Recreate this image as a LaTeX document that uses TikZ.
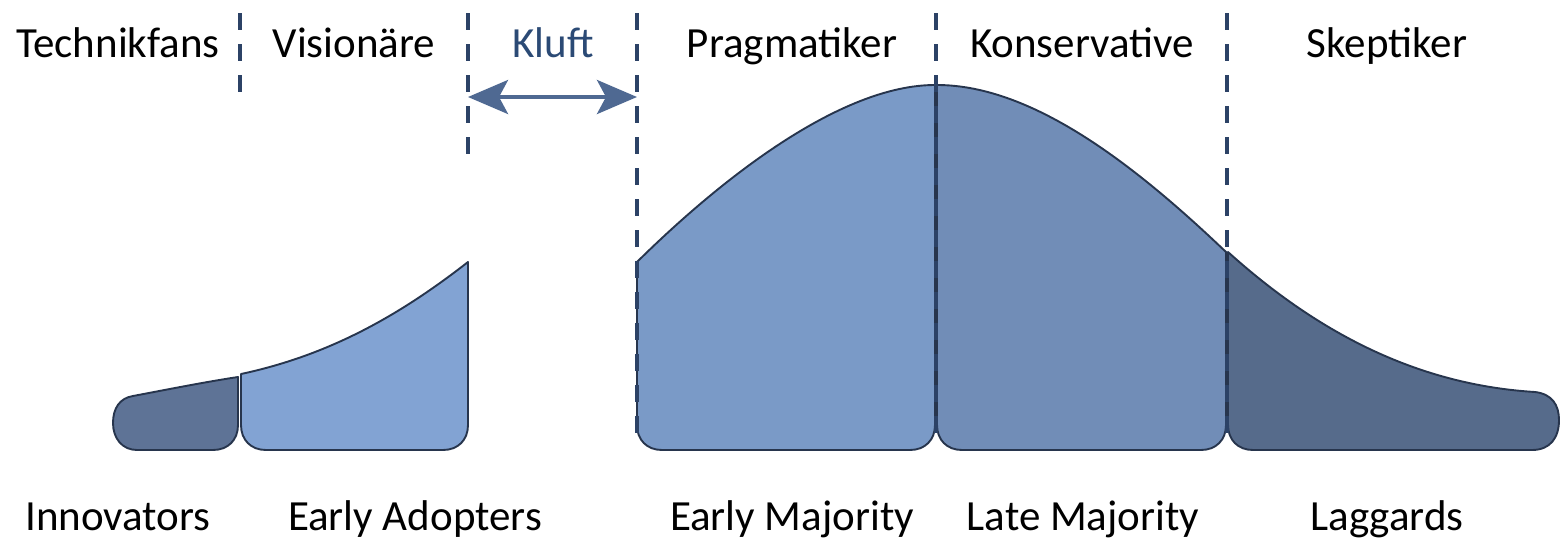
\documentclass[tikz,border=0pt]{standalone}
\usepackage{fontspec}
\setmainfont{Carlito}
\usetikzlibrary{arrows.meta}
\definecolor{innovfill}{HTML}{5E7396}
\definecolor{adoptfill}{HTML}{82A3D3}
\definecolor{earlyfill}{HTML}{7A9AC7}
\definecolor{latefill}{HTML}{718DB7}
\definecolor{lagfill}{HTML}{566B8B}
\definecolor{edge}{HTML}{27354D}
\definecolor{divider}{HTML}{2C4266}
\definecolor{gaparrow}{HTML}{4F6992}
\definecolor{gaptext}{HTML}{2B4A75}
\begin{document}
\begin{tikzpicture}[x=1pt,y=-1pt,
  segment/.style={draw=edge,line width=1.9pt,line join=round},
  divline/.style={draw=divider,line width=3.2pt,dash pattern=on 17pt off 14pt},
  label/.style={font=\fontsize{43}{50}\selectfont,text=black,inner sep=0pt,anchor=base}]
\useasboundingbox (0,0) rectangle (1560,538);

% adopter segments of the curve
\path[segment,fill=innovfill] (238,377) -- (238,425) .. controls (238,440) and (228,450) .. (213,450)
  -- (137,450) .. controls (122,450) and (113,438) .. (113,423)
  .. controls (113,408) and (120,398) .. (133,396)
  .. controls (170,389) and (205,382) .. (238,377) -- cycle;
\path[segment,fill=adoptfill] (241,374) .. controls (330,355) and (400,315) .. (468,262)
  -- (468,425) .. controls (468,440) and (458,450) .. (443,450)
  -- (266,450) .. controls (251,450) and (241,440) .. (241,425) -- cycle;
\path[segment,fill=earlyfill] (637,262) .. controls (720,180) and (840,85) .. (935,85)
  -- (935,425) .. controls (935,440) and (925,450) .. (910,450)
  -- (662,450) .. controls (647,450) and (637,440) .. (637,425) -- cycle;
\path[segment,fill=latefill] (937,85) .. controls (1035,85) and (1140,170) .. (1226,252)
  -- (1226,425) .. controls (1226,440) and (1216,450) .. (1201,450)
  -- (962,450) .. controls (947,450) and (937,440) .. (937,425) -- cycle;
\path[segment,fill=lagfill] (1228,252) .. controls (1320,335) and (1420,385) .. (1535,392)
  .. controls (1552,394) and (1559,405) .. (1559,420)
  .. controls (1559,438) and (1550,450) .. (1532,450)
  -- (1253,450) .. controls (1238,450) and (1228,440) .. (1228,425) -- cycle;

% group dividers
\coordinate (d1t) at (240,13);  \coordinate (d1b) at (240,98);
\coordinate (d2t) at (468,13);  \coordinate (d2b) at (468,163);
\coordinate (d3t) at (637,13);  \coordinate (d3b) at (637,440);
\coordinate (d4t) at (936,13);  \coordinate (d4b) at (936,440);
\coordinate (d5t) at (1227,13); \coordinate (d5b) at (1227,440);
\draw[divline] (d1t) -- (d1b);
\draw[divline] (d2t) -- (d2b);
\draw[divline] (d3t) -- (d3b);
\draw[divline] (d4t) -- (d4b);
\draw[divline] (d5t) -- (d5b);

% the chasm
\coordinate (gl) at (468,97);
\coordinate (gr) at (637,97);
\draw[gaparrow,line width=4pt,
  {Stealth[length=40pt,width=34pt,inset=9pt]}-{Stealth[length=40pt,width=34pt,inset=9pt]}]
  (gl) -- (gr);

% group names
\node[label] (tech) at (118,57) {Technikfans};
\node[label] (vis) at (354,57) {Visionäre};
\node[label,text=gaptext] (kluft) at (553,57) {Kluft};
\node[label] (prag) at (792,57) {Pragmatiker};
\node[label] (kons) at (1082,57) {Konservative};
\node[label] (skep) at (1387,57) {Skeptiker};

\node[label] (inno) at (118,530) {Innovators};
\node[label] (eadop) at (415,530) {Early Adopters};
\node[label] (emaj) at (792,530) {Early Majority};
\node[label] (lmaj) at (1083,530) {Late Majority};
\node[label] (lag) at (1387,530) {Laggards};
\end{tikzpicture}
\end{document}
